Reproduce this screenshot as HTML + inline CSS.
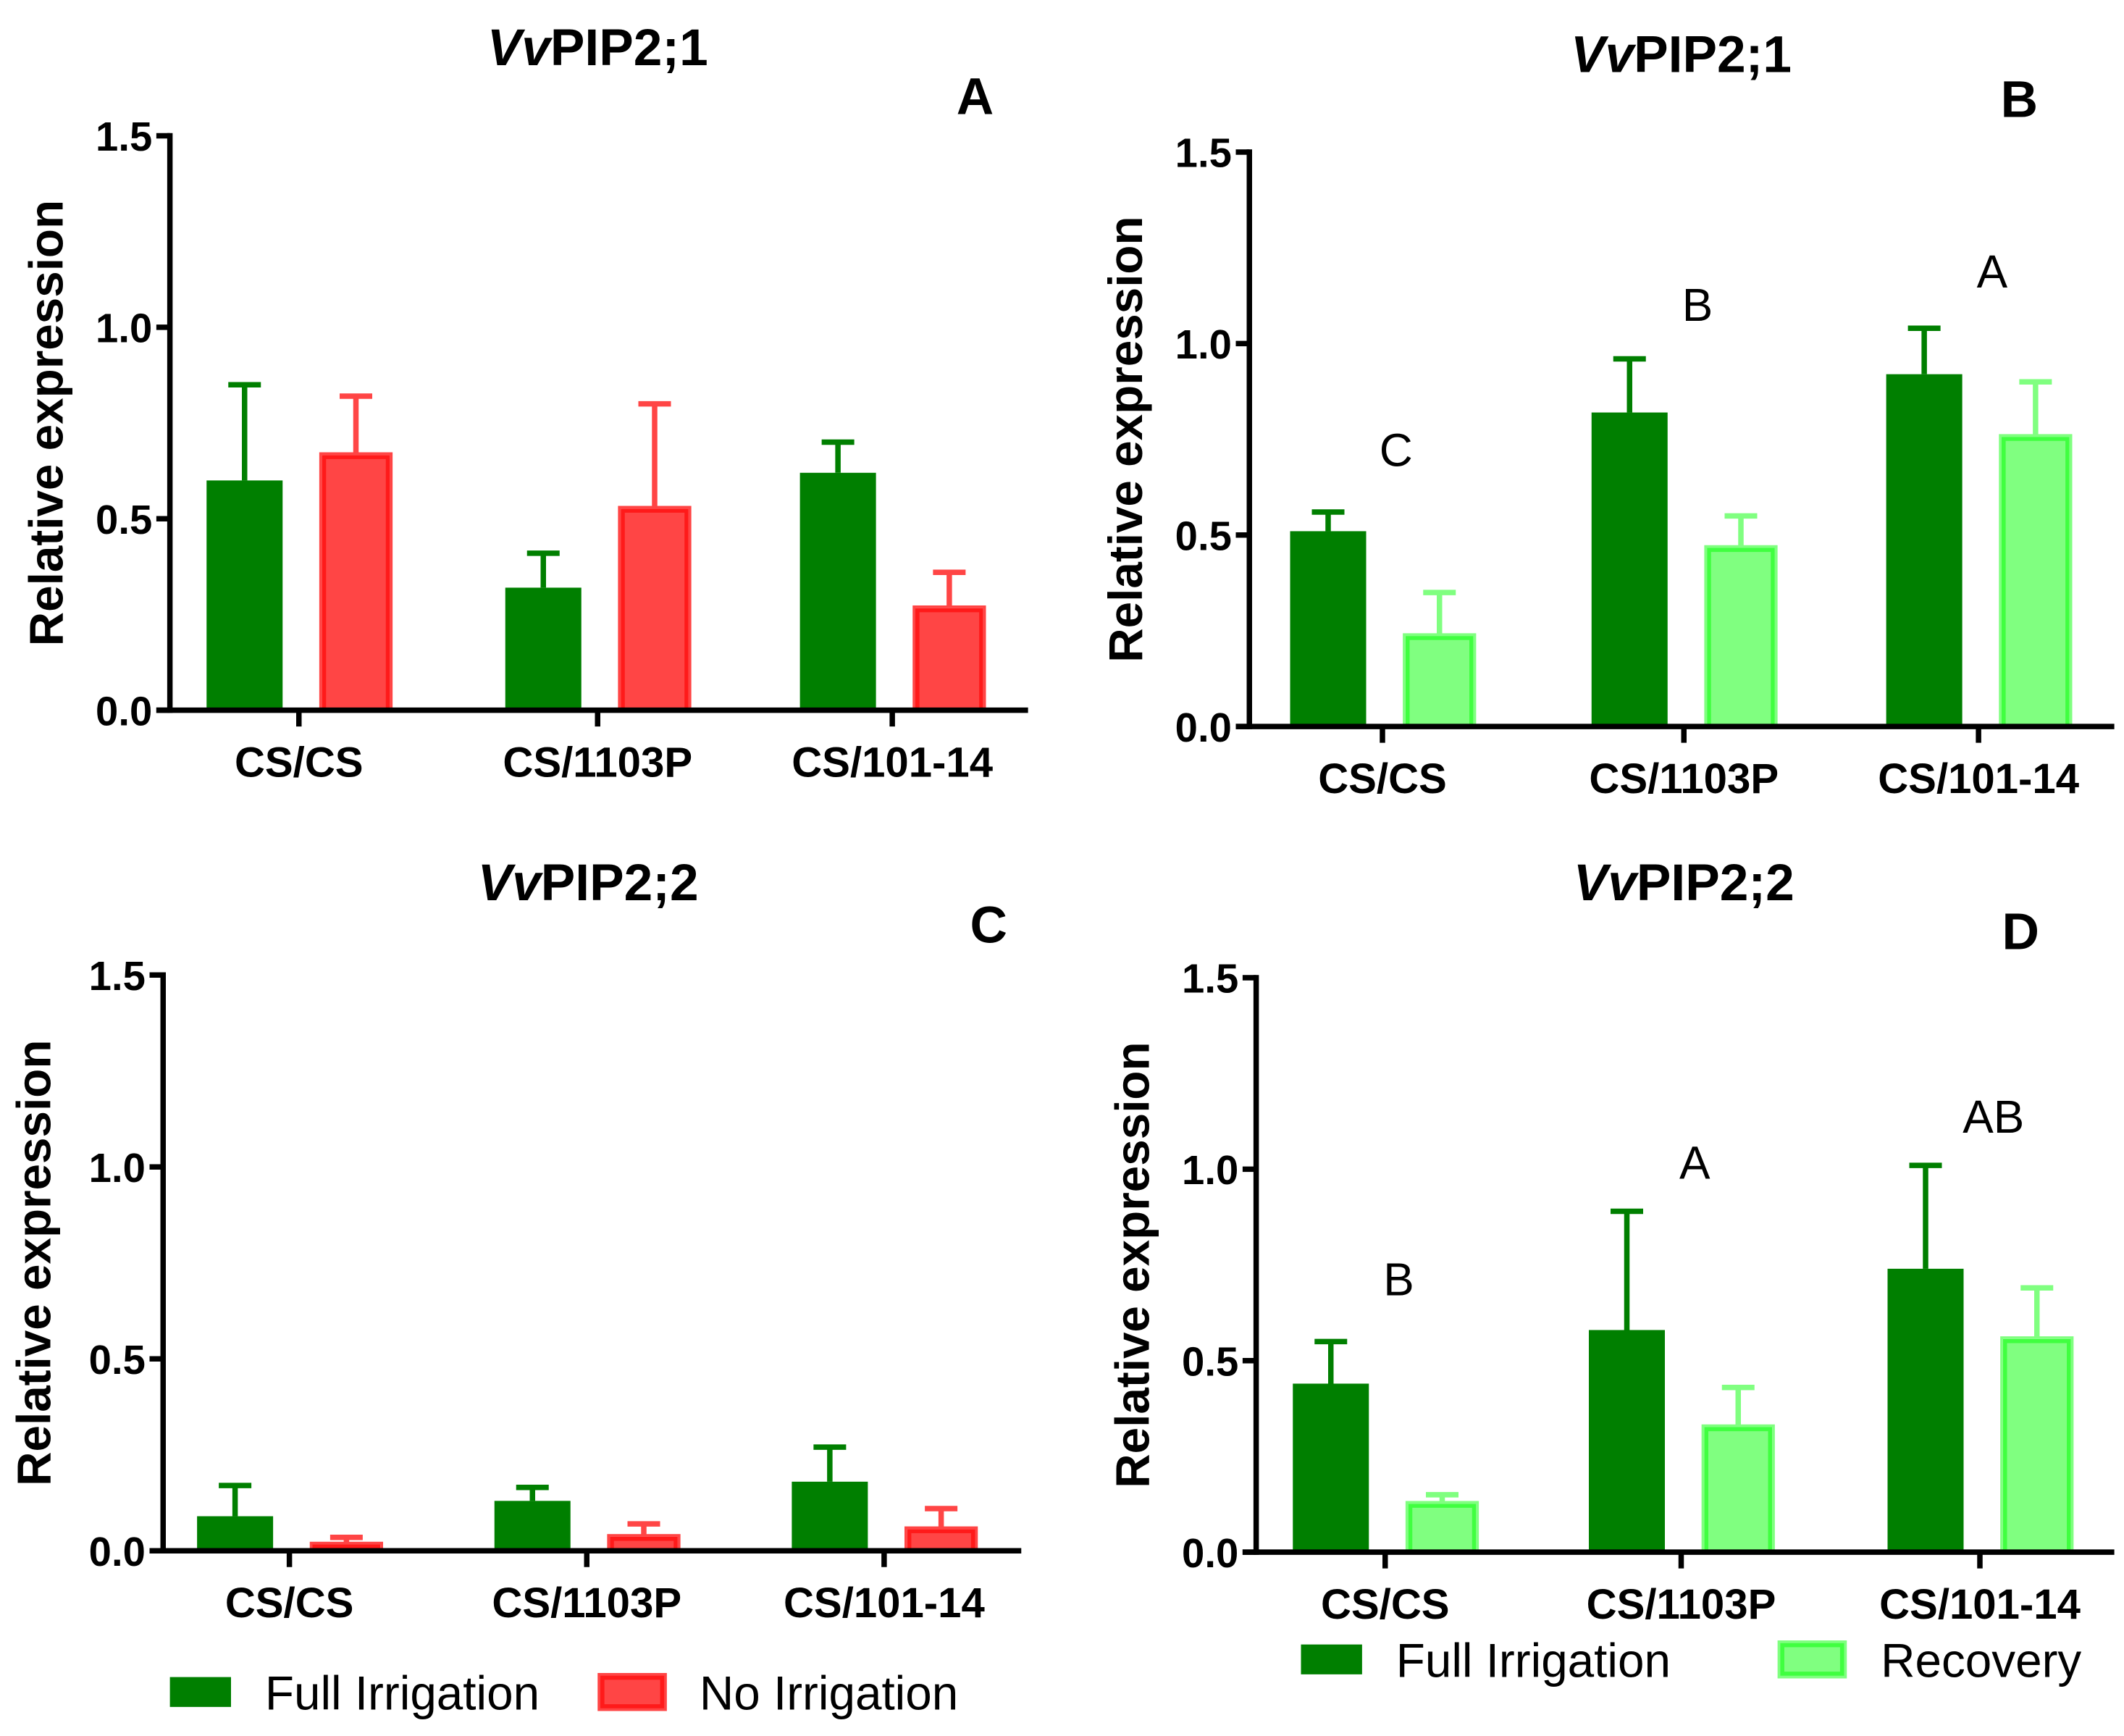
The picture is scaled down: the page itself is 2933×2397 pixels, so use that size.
<!DOCTYPE html>
<html><head><meta charset="utf-8"><style>
html,body{margin:0;padding:0;background:#fff;}
svg{display:block;}
text{font-family:"Liberation Sans",Arial,sans-serif;}
</style></head><body>
<svg id="fig" width="2933" height="2397" viewBox="0 0 1564 1278.4" xmlns="http://www.w3.org/2000/svg"></svg>
<script>
const categories = ["CS/CS","CS/1103P","CS/101-14"];
const tickLabels = ["0.0","0.5","1.0","1.5"];
const tickValues = [0,0.5,1.0,1.5];
const aFull = [0.60,0.32,0.62];
const aFullErr = [0.85,0.41,0.70];
const aNo = [0.67,0.53,0.27];
const aNoErr = [0.82,0.80,0.36];
const bFull = [0.51,0.82,0.92];
const bFullErr = [0.56,0.96,1.04];
const bRec = [0.24,0.47,0.76];
const bRecErr = [0.35,0.55,0.90];
const bLetters = ["C","B","A"];
const cFull = [0.09,0.13,0.18];
const cFullErr = [0.17,0.165,0.27];
const cNo = [0.02,0.04,0.06];
const cNoErr = [0.035,0.07,0.11];
const dFull = [0.44,0.58,0.74];
const dFullErr = [0.55,0.89,1.01];
const dRec = [0.13,0.33,0.56];
const dRecErr = [0.15,0.43,0.69];
const dLetters = ["B","A","AB"];

const NS="http://www.w3.org/2000/svg";
const svg=document.getElementById('fig');
function mk(tag,attrs,parent){const e=document.createElementNS(NS,tag);for(const k in attrs)e.setAttribute(k,attrs[k]);(parent||svg).appendChild(e);return e;}

const GREEN="#007f00";
const RED_F="#ff4545", RED_S="#ff1a1a", RED_E="#ff4545";
const LG_F="#80ff80", LG_S="#40ff40", LG_E="#80ff80";

function panel(cfg){
  const g=mk('g',{});
  
  
  const y=v=>cfg.y0-(cfg.y0-cfg.y15)*v/1.5;
  const x=i=>cfg.cx[i];
  const t=mk('text',{x:cfg.tx,y:cfg.ty,'text-anchor':'middle','font-size':38,'font-weight':'bold'},g);
  
  
  const ts=mk('tspan',{'font-style':'italic'},t); ts.textContent='Vv';
  const ts2=mk('tspan',{},t); ts2.textContent=cfg.gene;
  const pl=mk('text',{x:cfg.lx,y:cfg.ly,'text-anchor':'middle','font-size':38,'font-weight':'bold'},g);
  
  
  pl.textContent=cfg.letter;
  const yl=mk('text',{x:0,y:0,transform:`translate(${cfg.ylx},${(cfg.y0+cfg.y15)/2}) rotate(-90)`,'text-anchor':'middle','font-size':35,'font-weight':'bold'},g);
  
  
  yl.textContent='Relative expression';
  const series=[[cfg.s1,cfg.e1,cfg.c1],[cfg.s2,cfg.e2,cfg.c2]];
  series.forEach((s,si)=>{
    s[0].forEach((v,i)=>{
      const cx=x(i)+(si===0?-40:42);
      const w=si===0?56:52;
      const c=s[2];
      const el=mk('line',{x1:cx,x2:cx,y1:y(v),y2:y(s[1][i]),stroke:c.e,'stroke-width':4},g);
      
      
      const cap=mk('line',{x1:cx-12,x2:cx+12,y1:y(s[1][i]),y2:y(s[1][i]),stroke:c.e,'stroke-width':4},g);
      
      
      const r=mk('rect',{x:cx-w/2,y:y(v),width:w,height:y(0)-y(v),fill:c.f},g);
      if(c.s){r.setAttribute('stroke',c.s);r.setAttribute('stroke-width',3);r.setAttribute('x',cx-w/2+2.5);r.setAttribute('width',w-5);r.setAttribute('y',y(v)+2.5);r.setAttribute('height',Math.max(0,y(0)-y(v)-2.5));
        const o=mk('rect',{x:cx-w/2,y:y(v),width:w,height:y(0)-y(v),fill:'none',stroke:c.e,'stroke-width':2},g);
        
        }
      
      
    });
  });
  const ya=mk('line',{x1:cfg.ax,x2:cfg.ax,y1:cfg.y15-2,y2:cfg.y0+2,stroke:'#000','stroke-width':4},g);
  
  
  const xa=mk('line',{x1:cfg.ax-10,x2:cfg.axEnd,y1:cfg.y0,y2:cfg.y0,stroke:'#000','stroke-width':4},g);
  
  
  tickValues.forEach((tv,i)=>{
    const tk=mk('line',{x1:cfg.ax-10,x2:cfg.ax,y1:y(tv),y2:y(tv),stroke:'#000','stroke-width':4},g);
    
    
    const tl=mk('text',{x:cfg.ax-13,y:y(tv)+11,'text-anchor':'end','font-size':30,'font-weight':'bold'},g);
    
    
    tl.textContent=tickLabels[i];
  });
  categories.forEach((c,i)=>{
    const tk=mk('line',{x1:x(i),x2:x(i),y1:cfg.y0,y2:cfg.y0+12,stroke:'#000','stroke-width':4},g);
    
    
    const tl=mk('text',{x:x(i),y:cfg.y0+49,'text-anchor':'middle','font-size':31,'font-weight':'bold'},g);
    
    
    tl.textContent=c;
    if(cfg.letters){
      const lt=mk('text',{x:x(i)+10,y:y(cfg.e1[i])-cfg.letterOff[i],'text-anchor':'middle','font-size':34},g);
      
      
      lt.textContent=cfg.letters[i];
    }
  });
}
const cFullStyle={f:GREEN,e:GREEN};
const cRed={f:RED_F,s:RED_S,e:RED_E};
const cLG={f:LG_F,s:LG_S,e:LG_E};
panel({name:'panel-a',gene:'PIP2;1',letter:'A',tx:440,ty:48,lx:718,ly:84,ylx:46,ax:125,axEnd:757,y0:523,y15:100,cx:[220,440,657],s1:aFull,e1:aFullErr,c1:cFullStyle,s2:aNo,e2:aNoErr,c2:cRed,s2name:'no-irrigation'});
panel({name:'panel-b',gene:'PIP2;1',letter:'B',tx:1238,ty:53,lx:1487,ly:86,ylx:841,ax:920,axEnd:1557,y0:535,y15:112,cx:[1018,1240,1457],s1:bFull,e1:bFullErr,c1:cFullStyle,s2:bRec,e2:bRecErr,c2:cLG,s2name:'recovery',letters:bLetters,letterOff:[34,28,30]});
panel({name:'panel-c',gene:'PIP2;2',letter:'C',tx:433,ty:663,lx:728,ly:694,ylx:37,ax:120,axEnd:752,y0:1142,y15:718,cx:[213,432,651],s1:cFull,e1:cFullErr,c1:cFullStyle,s2:cNo,e2:cNoErr,c2:cRed,s2name:'no-irrigation'});
panel({name:'panel-d',gene:'PIP2;2',letter:'D',tx:1240,ty:663,lx:1488,ly:699,ylx:846,ax:925,axEnd:1557,y0:1143,y15:720,cx:[1020,1238,1458],s1:dFull,e1:dFullErr,c1:cFullStyle,s2:dRec,e2:dRecErr,c2:cLG,s2name:'recovery',letters:dLetters,letterOff:[34,24,24]});

function legend(x,y,style,label,tx,name){
  const g=mk('g',{});
  
  
  const r=mk('rect',{x:x,y:y-11,width:45,height:22,fill:style.f},g);
  if(style.s){r.setAttribute('stroke',style.s);r.setAttribute('stroke-width',4);
    const o=mk('rect',{x:x-2,y:y-13,width:49,height:26,fill:'none',stroke:style.e,'stroke-width':2},g);
    
    }
  
  
  const t=mk('text',{x:tx,y:y+13,'font-size':35},g);
  
  
  t.textContent=label;
}
legend(125,1246,cFullStyle,'Full Irrigation',195,'legend-entry-full-irrigation-c');
legend(443,1246,cRed,'No Irrigation',515,'legend-entry-no-irrigation');
legend(958,1222,cFullStyle,'Full Irrigation',1028,'legend-entry-full-irrigation-d');
legend(1312,1222,cLG,'Recovery',1385,'legend-entry-recovery');
</script>
</body></html>
